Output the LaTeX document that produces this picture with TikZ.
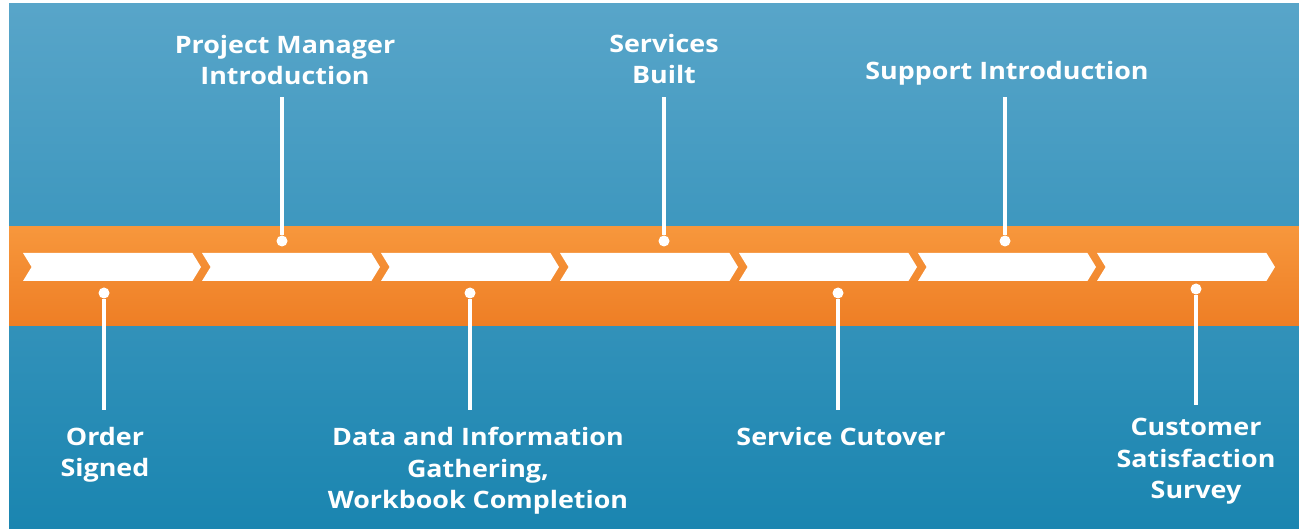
\documentclass[tikz,border=0pt]{standalone}
\usepackage{fontspec}
\setmainfont{Open Sans}
\newfontfamily\labelfont{Open Sans}[FakeStretch=1.12]
\usetikzlibrary{shapes.symbols}
\definecolor{skytop}{HTML}{58A5C9}
\definecolor{skybottom}{HTML}{1A85B0}
\definecolor{bandtop}{HTML}{F7973C}
\definecolor{bandbottom}{HTML}{EE7E25}
\tikzset{
  stage/.style={signal, signal from=west, signal to=east, signal pointer angle=117,
    minimum width=178pt, minimum height=28pt, inner sep=0pt, fill=white, draw=none},
  dot/.style={circle, fill=white, inner sep=0pt, minimum size=11pt},
  stem/.style={draw=white, line width=4pt},
  milestone/.style={text=white, align=center, inner xsep=0pt,
    font=\labelfont\fontsize{24}{31.5}\selectfont\bfseries},
  above label/.style={milestone, anchor=south, inner ysep=0pt},
  below label/.style={milestone, anchor=north, inner ysep=0pt}
}
\begin{document}
\begin{tikzpicture}[x=1pt,y=-1pt]

  % background and band
  \fill[white] (0,0) rectangle (1299,529);
  \useasboundingbox (0,0) rectangle (1299,529);
  \shade[top color=skytop, bottom color=skybottom] (9,4) rectangle (1299,529);
  \shade[top color=bandtop, bottom color=bandbottom] (9,227) rectangle (1299,326);

  % the seven stages
  \foreach \i in {1,...,7}
    \node[stage] (s\i) at ({112+179*(\i-1)},267) {};

  % dots on the band
  \node[dot] (d1) at (104,293) {};
  \node[dot] (d2) at (282,241) {};
  \node[dot] (d3) at (470,293) {};
  \node[dot] (d4) at (664,241) {};
  \node[dot] (d5) at (838,293) {};
  \node[dot] (d6) at (1005,241) {};
  \node[dot] (d7) at (1196,289) {};

  % labels
  \node[below label] (l1) at (105,427) {Order\\Signed};
  \node[above label] (l2) at (285,85) {Project Manager\\Introduction};
  \node[below label] (l3) at (478,427) {Data and Information\\Gathering,\\Workbook Completion};
  \node[above label] (l4) at (664,84) {Services\\Built};
  \node[below label] (l5) at (841,427) {Service Cutover};
  \node[above label] (l6) at (1007,85) {Support Introduction};
  \node[below label] (l7) at (1196,418) {Customer\\Satisfaction\\Survey};

  % stems
  \draw[stem] (d1) -- (d1 |- 0,410);
  \draw[stem] (d2) -- (d2 |- 0,97);
  \draw[stem] (d3) -- (d3 |- 0,410);
  \draw[stem] (d4) -- (d4 |- 0,97);
  \draw[stem] (d5) -- (d5 |- 0,410);
  \draw[stem] (d6) -- (d6 |- 0,97);
  \draw[stem] (d7) -- (d7 |- 0,405);

\end{tikzpicture}
\end{document}
